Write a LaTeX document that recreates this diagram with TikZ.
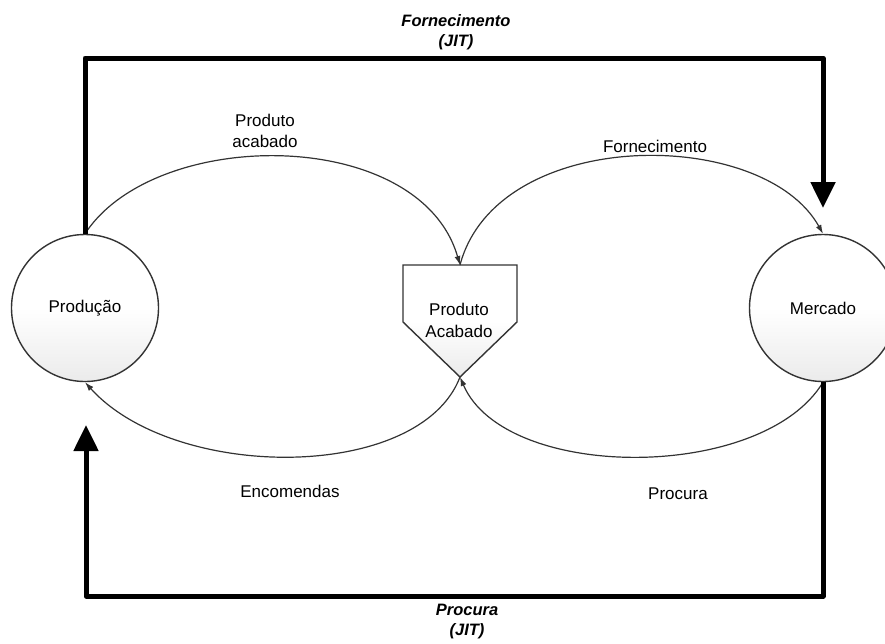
\documentclass[tikz,border=0pt]{standalone}
\usepackage{fontspec}
\setmainfont{Liberation Sans}
\usetikzlibrary{arrows.meta}
\begin{document}
\begin{tikzpicture}[x=1pt,y=-1pt,
  lbl/.style={font=\fontsize{17}{21}\selectfont, align=center, inner sep=0pt},
  jitlbl/.style={font=\fontsize{16.5}{20}\selectfont\bfseries\itshape, align=center, inner sep=0pt},
  softfill/.style={top color=white, bottom color=black!8, middle color=white},
  station/.style={circle, draw=black!80, line width=1.4pt, minimum size=147pt, inner sep=0pt,
    softfill, font=\fontsize{17}{21}\selectfont},
  flow/.style={draw=black!80, line width=1.2pt, -{Latex[length=9pt,width=6pt]}},
  jit/.style={line width=5pt, line join=round, -{Triangle[length=26pt,width=24pt]}}]

\clip (0,0) rectangle (885,643);

% stations
\node[station] (prod) at (85,308) {Produção};
\node[station] (merc) at (823,308) {Mercado};

% finished-goods stock (pentagon)
\coordinate (paTL) at (403,265);
\coordinate (paTR) at (517,265);
\coordinate (paR)  at (517,322);
\coordinate (paB)  at (460,377);
\coordinate (paL)  at (403,322);
\coordinate (paT)  at (460,265);
\draw[draw=black!80, line width=1.4pt, softfill]
  (paTL) -- (paTR) -- (paR) -- (paB) -- (paL) -- cycle;
\node[lbl, font=\fontsize{17}{22}\selectfont] (pa) at (459,320) {Produto\\Acabado};

% material and information flows
\draw[flow] (prod.north) .. controls (155,126) and (420,126) .. (paT);
\draw[flow] (paT) .. controls (497,126) and (763,126) .. (merc.north);
\draw[flow] (merc.south) .. controls (763,482) and (505,482) .. (paB);
\draw[flow] (paB) .. controls (420,482) and (175,482) .. (prod.south);

% JIT loops
\coordinate (fTip) at (823,208);
\coordinate (pTip) at (86,425);
\draw[jit] (prod.north) -- (prod.north |- 0,58) -| (fTip);
\draw[jit] (merc.south) -- (merc.south |- 0,596) -| (pTip);

% labels
\node[jitlbl] (lf) at (456,32) {Fornecimento\\(JIT)};
\node[jitlbl] (lp) at (467,622) {Procura\\(JIT)};
\node[lbl] (l1) at (265,131) {Produto\\acabado};
\node[lbl] (l2) at (655,146) {Fornecimento};
\node[lbl] (l3) at (290,491) {Encomendas};
\node[lbl] (l4) at (678,494) {Procura};
\end{tikzpicture}
\end{document}
